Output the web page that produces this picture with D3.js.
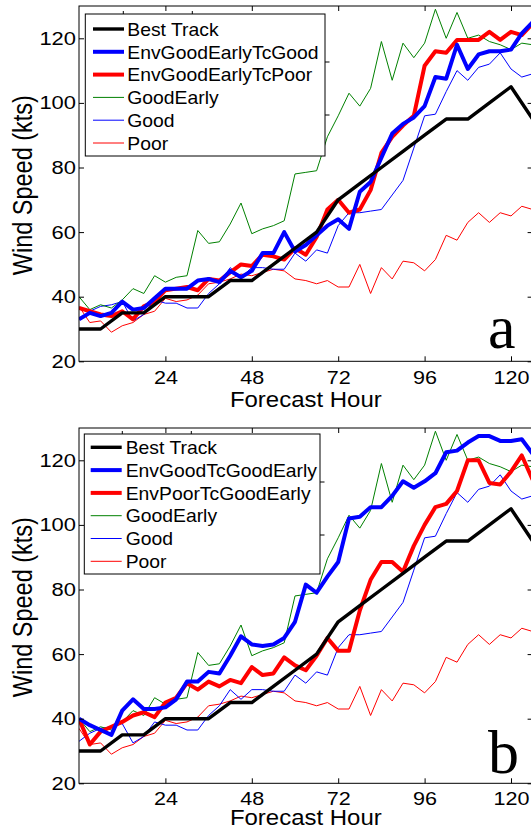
<!DOCTYPE html>
<html>
<head>
<meta charset="utf-8">
<script src="https://cdn.jsdelivr.net/npm/d3@7/dist/d3.min.js"></script>
<style>
  body { margin: 0; background: #fff; }
  svg { display: block; }
</style>
</head>
<body>
<div id="chart"></div>
<script>
// forecast hours (3-hourly model output, 6-hourly best track)
var hours3 = [0,3,6,9,12,15,18,21,24,27,30,33,36,39,42,45,48,51,54,57,60,63,66,69,72,75,78,81,84,87,90,93,96,99,102,105,108,111,114,117,120,123,126];
var hours6 = [0,6,12,18,24,30,36,42,48,54,60,66,72,78,84,90,96,102,108,114,120,126];

var bestTrack = [30,30,35,35,40,40,40,45,45,50,55,60,70,75,80,85,90,95,95,100,105,95];

// shared by both panels
var goodEarly = [40,36,37.5,36.5,39,42.5,41,46.5,44.5,46,46.5,60.5,56.5,57,62.5,69,59.5,61,62,63.5,78,78.5,79,89.5,96,103,99,104.5,119,107,118.5,114,118.5,129,120,128,120,121,119,118,116.5,118.5,118];
var good = [33,35.5,37,37.5,38.5,32.5,34.5,39,38,38,36.5,36.5,41,44,49,46,49,49,48.5,48.5,53.5,51,54.5,53.5,62,66,66,66.5,67,71.5,76,86,96,96.5,103.5,110,107,111,112,115.5,110.5,108,109];
var poor = [37,32,32.5,29,31,32,34.5,35.5,39.5,38.5,39,40.5,44,44.5,45.5,47,46.5,47.5,48.5,48,45.5,45,44,45,43,43,50,41,49,45.5,51,50.5,48,51.5,59,57.5,63,66,63,66,65,68,67];

// panel a
var envGoodEarlyTcGood = [33,35,34,35,38.5,36,36.5,39.5,42.5,42.5,42.5,45,45.5,44.5,48,46,48,53.5,53.5,60,54,56,59,62,64,61,72.5,75.5,83,90.5,93.5,95.5,99,108,107.5,118,110.5,115,116,116,116.5,121.5,125];
var envGoodEarlyTcPoor = [36.5,35.5,34.5,34,35.5,33,37,38.5,42,42.5,43,42,45.5,45,47.5,50,49.5,53,52.5,51.5,55,53,58.5,67,70,66,67,73,84.5,89.5,93,96,111.5,116,115.5,119.5,119.5,119.5,122,119.5,122,121,124.5];

// panel b
var envGoodTcGoodEarly = [40,38,36.5,35,42.5,46,43,43,43.5,46,51.5,51.5,54.5,54,59.5,65.5,63,62.5,63,65,70,81.5,79,84,88.5,102,102.5,105.5,105.5,109,113.5,111.5,113.5,116,122.5,123,125.5,127.5,127.5,126,126,126.5,122];
var envPoorTcGoodEarly = [40,32,36,37.5,39,41,42,40.5,45,46.5,51,49,51.5,50,52,51,56,53.5,54,59,56.5,55,59.5,65,61,61,73.5,83,88.5,88.5,85.5,93.5,100,105.5,106.5,110.5,120,120,113,112.5,116.5,121.5,114];

var xTicks = [24,48,72,96,120];
var yTicks = [20,40,60,80,100,120];

var W = 531, H = 830;
var SANS = "'Liberation Sans', Arial, Helvetica, sans-serif";
var SERIF = "'Liberation Serif', 'Times New Roman', serif";

var svg = d3.select("#chart").append("svg").attr("width", W).attr("height", H);

var x = d3.scaleLinear().domain([0, 126]).range([79, 532.6]);

var panels = [
  { id: "a", top: 6, bottom: 361.3, tickPad: 9.8, labelY: 407.2, letterY: 348,
    thick: [envGoodEarlyTcGood, envGoodEarlyTcPoor],
    names: ["EnvGoodEarlyTcGood", "EnvGoodEarlyTcPoor"],
    leg: { x: 85.3, y: 14, w: 239.7, h: 142, row0: 29, lx: 93, tx: 127.3 } },
  { id: "b", top: 428, bottom: 783.3, tickPad: 8.3, labelY: 825.2, letterY: 773,
    thick: [envGoodTcGoodEarly, envPoorTcGoodEarly],
    names: ["EnvGoodTcGoodEarly", "EnvPoorTcGoodEarly"],
    leg: { x: 84.3, y: 434, w: 235.7, h: 140, row0: 447.3, lx: 90.7, tx: 125.7 } }
];

// squeeze/stretch text horizontally (the original figure was resized unevenly)
function stretch(sel, k) {
  sel.each(function() {
    var t = d3.select(this);
    var xx = +t.attr("x") || 0;
    t.attr("x", xx / k).attr("transform", "scale(" + k + ",1)");
  });
}

panels.forEach(function(p) {
  var y = d3.scaleLinear().domain([20, 130]).range([p.bottom, p.top]);
  var g = svg.append("g").style("font-family", SANS);

  svg.append("clipPath").attr("id", "clip-" + p.id)
    .append("rect")
    .attr("x", x(0)).attr("y", p.top)
    .attr("width", x(126) - x(0)).attr("height", p.bottom - p.top);

  var series = [
    { name: "Best Track", h: hours6, v: bestTrack, color: "#000000", w: 3.4 },
    { name: p.names[0], h: hours3, v: p.thick[0], color: "#0000ff", w: 4 },
    { name: p.names[1], h: hours3, v: p.thick[1], color: "#ff0000", w: 4 },
    { name: "GoodEarly", h: hours3, v: goodEarly, color: "#008000", w: 1 },
    { name: "Good", h: hours3, v: good, color: "#0000ff", w: 1 },
    { name: "Poor", h: hours3, v: poor, color: "#ff0000", w: 1 }
  ];
  // thin lines underneath, then the thick ones, best track on top
  var drawOrder = [5, 4, 3, 2, 1, 0];

  var line = d3.line().x(function(d) { return x(d[0]); }).y(function(d) { return y(d[1]); });
  var plot = g.append("g").attr("clip-path", "url(#clip-" + p.id + ")");
  drawOrder.forEach(function(k) {
    var s = series[k];
    plot.append("path")
      .datum(d3.zip(s.h, s.v))
      .attr("d", line)
      .attr("fill", "none")
      .attr("stroke", s.color)
      .attr("stroke-width", s.w)
      .attr("stroke-linejoin", "round")
      .attr("stroke-linecap", "butt");
  });

  // axes, MATLAB style: ticks inside, on all four sides
  var yl = g.append("g").attr("transform", "translate(" + x(0) + ",0)")
    .call(d3.axisLeft(y).tickValues(yTicks).tickSizeInner(-5).tickSizeOuter(0).tickPadding(3));
  var yr = g.append("g").attr("transform", "translate(" + x(126) + ",0)")
    .call(d3.axisRight(y).tickValues(yTicks).tickSizeInner(-5).tickSizeOuter(0).tickFormat(""));
  var xb = g.append("g").attr("transform", "translate(0," + p.bottom + ")")
    .call(d3.axisBottom(x).tickValues(xTicks).tickSizeInner(-5).tickSizeOuter(0).tickPadding(p.tickPad));
  var xt = g.append("g").attr("transform", "translate(0," + p.top + ")")
    .call(d3.axisTop(x).tickValues(xTicks).tickSizeInner(-5).tickSizeOuter(0).tickFormat(""));
  [yl, yr, xb, xt].forEach(function(a) {
    a.attr("font-family", null).attr("font-size", null);
    a.select(".domain").remove();
    a.selectAll("line").attr("stroke", "#000").attr("stroke-width", 1);
    a.selectAll("text").style("font-family", SANS).style("font-size", "18.6px").attr("fill", "#000");
  });
  stretch(yl.selectAll("text"), 1.18);
  stretch(xb.selectAll("text"), 1.16);

  g.append("rect")
    .attr("x", x(0)).attr("y", p.top)
    .attr("width", x(126) - x(0)).attr("height", p.bottom - p.top)
    .attr("fill", "none").attr("stroke", "#000").attr("stroke-width", 1);

  // axis labels
  g.append("text")
    .attr("transform", "translate(305.8," + p.labelY + ") scale(1.075,1)")
    .attr("text-anchor", "middle").style("font-size", "22.3px")
    .text("Forecast Hour");
  g.append("text")
    .attr("transform", "translate(31.7," + ((p.top + p.bottom) / 2 + 1.5) + ") scale(1.19,1) rotate(-90)")
    .attr("text-anchor", "middle").style("font-size", "23.5px")
    .text("Wind Speed (kts)");

  // panel letter
  g.append("text")
    .attr("x", 488).attr("y", p.letterY)
    .style("font-family", SERIF)
    .style("font-size", "62px")
    .text(p.id);

  // legend
  var L = p.leg;
  var lg = g.append("g");
  lg.append("rect").attr("x", L.x).attr("y", L.y).attr("width", L.w).attr("height", L.h)
    .attr("fill", "#fff").attr("stroke", "#000").attr("stroke-width", 1);
  // small outward ticks left over from the legend axes
  [38, 107].forEach(function(o) {
    lg.append("line").attr("x1", L.x + o).attr("x2", L.x + o).attr("y1", L.y).attr("y2", L.y - 3)
      .attr("stroke", "#000").attr("stroke-width", 1);
  });
  [48, 101].forEach(function(o) {
    lg.append("line").attr("x1", L.x + L.w).attr("x2", L.x + L.w + 4.5).attr("y1", L.y + o).attr("y2", L.y + o)
      .attr("stroke", "#000").attr("stroke-width", 1);
  });
  series.forEach(function(s, i) {
    var ry = L.row0 + i * 22.8;
    lg.append("line").attr("x1", L.lx).attr("x2", L.lx + 31).attr("y1", ry).attr("y2", ry)
      .attr("stroke", s.color).attr("stroke-width", s.w);
    lg.append("text")
      .attr("transform", "translate(" + L.tx + "," + (ry + 6.7) + ") scale(1.04,1)")
      .style("font-size", "18.6px")
      .text(s.name);
  });
});
</script>
</body>
</html>
